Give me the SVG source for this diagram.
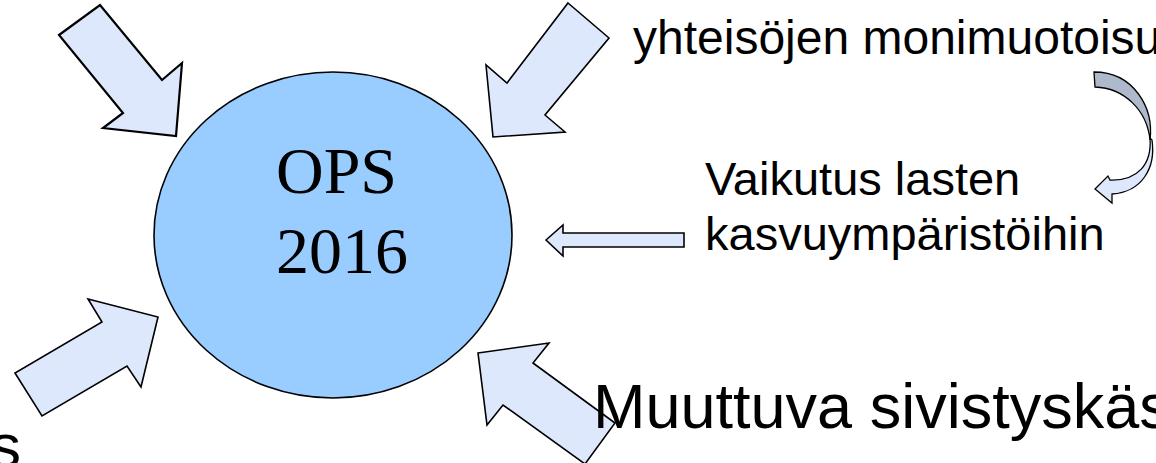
<svg xmlns="http://www.w3.org/2000/svg" width="1156" height="463" viewBox="0 0 1156 463">
<style>
.arr{fill:#dde8fc;stroke:#000;stroke-width:1.6;stroke-linejoin:miter}
.sans{font-family:"Liberation Sans",Arial,sans-serif;fill:#000}
.serif{font-family:"Liberation Serif","Times New Roman",serif;fill:#000}
</style>
<rect width="1156" height="463" fill="#fff"/>
<g id="connectors">
<polygon class="arr" style="stroke-width:2.2" points="59,35 100,5 162,80 182,63 176,136 103,128 123,113"/>
<polygon class="arr" points="568,3 609,38 545,115 565,132 493,137 486,65 507,83"/>
<polygon class="arr" points="15,373 42,416 127,366 141,387 158,317 88,299 102,322"/>
<polygon class="arr" points="478,353 549,343 533,363 615,423 585,464 503,405 487,425"/>
<polygon class="arr" points="546,240 563,225 563,233 684,233 684,247 563,247 563,256"/>
<path d="M1094,72 L1095,87 C1124,88 1147,110 1150,140 C1154,108 1134,72 1094,72 Z" fill="#aeb9cb" stroke="#000" stroke-width="1.3"/>
<path d="M1150,138 C1152,164 1138,181 1110,180 L1108,176 L1095,189 L1112,203 L1112,194 C1142,192 1156,168 1152,140 Z" fill="#dde8fc" stroke="#000" stroke-width="1.3"/>
</g>
<g id="ops">
<ellipse cx="333" cy="235" rx="179" ry="163" fill="#99ccff" stroke="#000" stroke-width="1.6"/>
<text class="serif" x="276" y="193" font-size="66">OPS</text>
<text class="serif" x="276" y="273" font-size="66">2016</text>
</g>
<g id="label-yhteisot">
<text class="sans" x="633" y="54" font-size="48">yhteisöjen monimuotoisu</text>
</g>
<g id="label-vaikutus">
<text class="sans" x="705" y="195" font-size="47">Vaikutus lasten</text>
<text class="sans" x="705" y="250" font-size="47">kasvuympäristöihin</text>
</g>
<g id="label-muuttuva">
<text class="sans" x="593" y="428" font-size="63">Muuttuva sivistyskäs</text>
</g>
<g id="label-left">
<text class="sans" x="21" y="467" font-size="62" text-anchor="end">s</text>
</g>
</svg>
